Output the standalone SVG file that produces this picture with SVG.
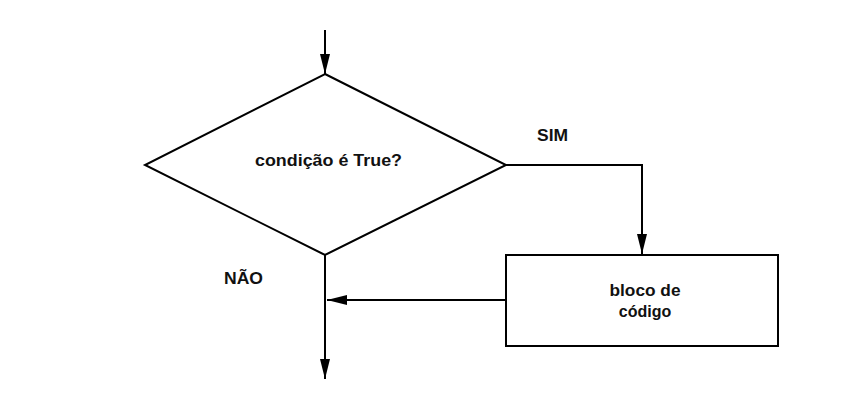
<svg xmlns="http://www.w3.org/2000/svg" width="852" height="404" viewBox="0 0 852 404">
<style>
.shape{fill:none;stroke:#000;stroke-width:2}
.line{fill:none;stroke:#000;stroke-width:2}
text{font-family:"Liberation Sans",Arial,sans-serif;font-weight:bold;font-size:16px;fill:#111}
</style>
<defs>
<marker id="arr" markerUnits="userSpaceOnUse" markerWidth="20" markerHeight="10" refX="20" refY="5" orient="auto">
<path d="M0,0 L20,5 L0,10 Z" fill="#000"/>
</marker>
</defs>
<rect width="852" height="404" fill="#fff"/>
<g id="decisao">
<polygon class="shape" points="325,74 506,165 325,255 145,165"/>
<text x="328.5" y="166" text-anchor="middle" textLength="147" lengthAdjust="spacingAndGlyphs">condição é True?</text>
</g>
<g id="bloco">
<rect class="shape" x="506" y="255" width="272" height="91"/>
<text x="645" y="296" text-anchor="middle" textLength="71" lengthAdjust="spacingAndGlyphs">bloco de</text>
<text x="645" y="317" text-anchor="middle">código</text>
</g>
<g id="connectors">
<line class="line" x1="325" y1="30" x2="325" y2="74" marker-end="url(#arr)"/>
<polyline class="line" points="506,165 642,165 642,254" marker-end="url(#arr)"/>
<line class="line" x1="506" y1="300" x2="327" y2="300" marker-end="url(#arr)"/>
<line class="line" x1="325" y1="255" x2="325" y2="379" marker-end="url(#arr)"/>
</g>
<g id="labels">
<text x="537" y="141" textLength="31" lengthAdjust="spacingAndGlyphs">SIM</text>
<text x="224" y="284" textLength="39" lengthAdjust="spacingAndGlyphs">NÃO</text>
</g>
</svg>
